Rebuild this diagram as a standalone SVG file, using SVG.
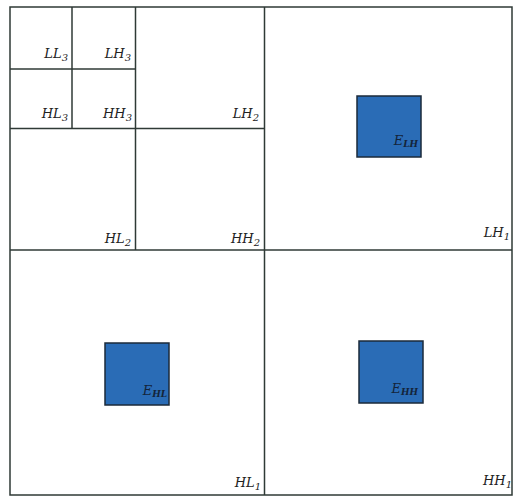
<svg xmlns="http://www.w3.org/2000/svg" width="518" height="497" viewBox="0 0 518 497">
<style>
.ln{stroke:#2f3a36;stroke-width:1.5;fill:none}
.lb{font-family:"DejaVu Serif","Liberation Serif",serif;font-style:italic;font-size:13px;fill:#222;text-anchor:end}
.sb{font-size:10px}
.blk{fill:#2a6cb6;stroke:#1b2a3a;stroke-width:1.5}
.el{font-family:"DejaVu Serif","Liberation Serif",serif;font-style:italic;font-size:13px;fill:#14243a;text-anchor:end}
.es{font-size:9px;font-weight:bold}
</style>
<rect width="518" height="497" fill="#fff"/>
<g id="grid">
<rect class="ln" x="10" y="7" width="502" height="488"/>
<line class="ln" x1="264.5" y1="7" x2="264.5" y2="495"/>
<line class="ln" x1="10" y1="250" x2="512" y2="250"/>
<line class="ln" x1="135.5" y1="7" x2="135.5" y2="250"/>
<line class="ln" x1="10" y1="128.5" x2="264.5" y2="128.5"/>
<line class="ln" x1="72" y1="7" x2="72" y2="128.5"/>
<line class="ln" x1="10" y1="69" x2="135.5" y2="69"/>
</g>
<g id="LL3"><text class="lb" x="68" y="58">LL<tspan class="sb" dy="3">3</tspan></text></g>
<g id="LH3"><text class="lb" x="131" y="58">LH<tspan class="sb" dy="3">3</tspan></text></g>
<g id="HL3"><text class="lb" x="68" y="118">HL<tspan class="sb" dy="3">3</tspan></text></g>
<g id="HH3"><text class="lb" x="132" y="118">HH<tspan class="sb" dy="3">3</tspan></text></g>
<g id="LH2"><text class="lb" x="259" y="118">LH<tspan class="sb" dy="3">2</tspan></text></g>
<g id="HL2"><text class="lb" x="131" y="243">HL<tspan class="sb" dy="3">2</tspan></text></g>
<g id="HH2"><text class="lb" x="260" y="243">HH<tspan class="sb" dy="3">2</tspan></text></g>
<g id="LH1"><text class="lb" x="510" y="237">LH<tspan class="sb" dy="3">1</tspan></text></g>
<g id="HL1"><text class="lb" x="261" y="487">HL<tspan class="sb" dy="3">1</tspan></text></g>
<g id="HH1"><text class="lb" x="512" y="485">HH<tspan class="sb" dy="3">1</tspan></text></g>
<g id="ELH"><rect class="blk" x="357" y="96" width="64" height="61"/><text class="el" x="418" y="145">E<tspan class="es" dy="2">LH</tspan></text></g>
<g id="EHL"><rect class="blk" x="105" y="343" width="64" height="62"/><text class="el" x="167" y="395">E<tspan class="es" dy="2">HL</tspan></text></g>
<g id="EHH"><rect class="blk" x="359" y="341" width="64" height="62"/><text class="el" x="418" y="393">E<tspan class="es" dy="2">HH</tspan></text></g>
</svg>
